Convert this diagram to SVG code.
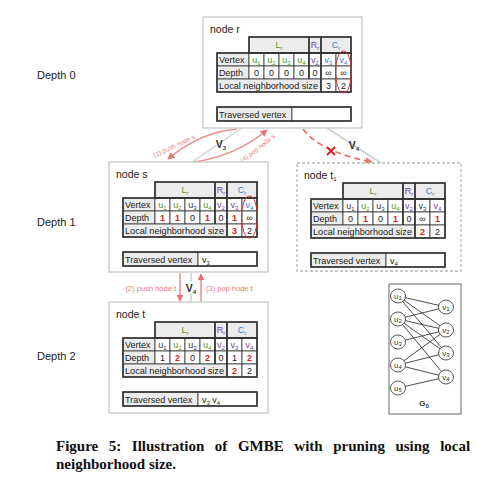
<svg xmlns="http://www.w3.org/2000/svg" xmlns:xlink="http://www.w3.org/1999/xlink" width="491" height="492" viewBox="0 0 491 492">
<style>
.tb{font-family:"Liberation Sans","Noto Sans",sans-serif;font-size:9px;fill:#222;text-anchor:middle}
.lab{text-anchor:start}
.sb{font-size:6px}
.g{fill:#4e9a28}.p{fill:#7b3fa0}.b{fill:#3a7cc6}.k{fill:#333}.r{fill:#e02020;font-weight:bold}
.cell{fill:#fff;stroke:#333;stroke-width:.8}
.hd{fill:#ececec;stroke:#333;stroke-width:.8}
.thick{fill:none;stroke:#333;stroke-width:1.6}
.box{fill:#fff;stroke:#c8c8c8;stroke-width:1.3}
.dbox{fill:#fff;stroke:#bbb;stroke-width:1.3;stroke-dasharray:3,2}
.nm{font-family:"Liberation Sans","Noto Sans",sans-serif;font-size:10.5px;fill:#222}
.ring{fill:none;stroke:#e03030;stroke-width:1}
.dep{font-family:"Liberation Sans","Noto Sans",sans-serif;font-size:11px;fill:#222}
.gl{stroke:#cfcfcf;stroke-width:1.5;fill:none}
.rl{stroke:#f08a8a;stroke-width:1.5;fill:none}
.rt{font-family:"Liberation Sans","Noto Sans",sans-serif;font-size:6.5px;fill:#ee7a7a;text-anchor:middle}
.rt2{font-family:"Liberation Sans","Noto Sans",sans-serif;font-size:7.5px;fill:#ee7a7a}
.vl{font-family:"Liberation Sans","Noto Sans",sans-serif;font-size:10.5px;font-weight:bold;fill:#333;text-anchor:middle}
.ge{stroke:#222;stroke-width:.8}
.gc{fill:#fff;stroke:#444;stroke-width:.9}
.gt{font-family:"Liberation Sans","Noto Sans",sans-serif;font-size:8px;fill:#333;text-anchor:middle}
.cap{font-family:"Liberation Serif","Times New Roman",serif;font-size:15px;font-weight:bold;fill:#111}
</style>
<defs>
<marker id="ah" viewBox="0 0 10 10" refX="9" refY="5" markerUnits="userSpaceOnUse" markerWidth="7" markerHeight="7" orient="auto"><path d="M0,0 L10,5 L0,10 z" fill="#ea6f6f"/></marker>
<g id="grid">
<rect class="hd" x="46" y="20" width="60" height="16"/>
<rect class="hd" x="106" y="20" width="12" height="16"/>
<rect class="hd" x="118" y="20" width="30" height="16"/>
<rect class="hd" x="14" y="36" width="32" height="13"/>
<rect class="hd" x="14" y="49" width="32" height="13"/>
<rect class="cell" x="46" y="36" width="15" height="13"/><rect class="cell" x="61" y="36" width="15" height="13"/><rect class="cell" x="76" y="36" width="15" height="13"/><rect class="cell" x="91" y="36" width="15" height="13"/><rect class="cell" x="106" y="36" width="12" height="13"/><rect class="cell" x="118" y="36" width="15" height="13"/><rect class="cell" x="133" y="36" width="15" height="13"/>
<rect class="cell" x="46" y="49" width="15" height="13"/><rect class="cell" x="61" y="49" width="15" height="13"/><rect class="cell" x="76" y="49" width="15" height="13"/><rect class="cell" x="91" y="49" width="15" height="13"/><rect class="cell" x="106" y="49" width="12" height="13"/><rect class="cell" x="118" y="49" width="15" height="13"/><rect class="cell" x="133" y="49" width="15" height="13"/>
<rect class="hd" x="14" y="62" width="104" height="13"/>
<rect class="cell" x="118" y="62" width="15" height="13"/><rect class="cell" x="133" y="62" width="15" height="13"/>
<rect class="thick" x="46" y="20" width="102" height="16"/>
<rect class="thick" x="14" y="36" width="134" height="39"/>
<path class="thick" d="M106,20 V62 M118,20 V75"/>
<rect class="hd" x="14" y="90" width="75" height="14"/>
<rect class="cell" x="89" y="90" width="59" height="14"/>
<rect class="thick" x="14" y="90" width="134" height="14"/>
</g>
</defs>

<rect width="491" height="492" fill="#fff"/>

<text class="dep" x="37" y="79">Depth 0</text>
<text class="dep" x="37" y="226">Depth 1</text>
<text class="dep" x="37" y="360">Depth 2</text>

<g id="connectors">
<line class="gl" x1="242" y1="128" x2="192" y2="162"/>
<text class="vl" x="221" y="148">V<tspan class="sb" font-size="7" dy="2">3</tspan></text>
<path class="rl" d="M237,129 Q200,132 168,159" marker-end="url(#ah)"/>
<text class="rt" transform="translate(175,148) rotate(-25)">(1) push node s</text>
<path class="rl" d="M194,162 Q236,156 267,130" marker-end="url(#ah)"/>
<text class="rt" transform="translate(259,150) rotate(-38)">(4) pop node s</text>
<line class="gl" x1="327" y1="128" x2="381" y2="163"/>
<text class="vl" x="354" y="149">V<tspan class="sb" font-size="7" dy="2">4</tspan></text>
<path d="M303,129 Q320,152 372,162" fill="none" stroke="#ea6060" stroke-width="1.5" stroke-dasharray="6,4" marker-end="url(#ah)"/>
<path d="M327,147 L335,155 M335,147 L327,155" stroke="#e02020" stroke-width="2"/>
<line class="gl" x1="191" y1="273" x2="191" y2="282"/>
<line class="gl" x1="191" y1="294" x2="191" y2="302"/>
<text class="vl" x="191" y="292">V<tspan class="sb" font-size="7" dy="2">4</tspan></text>
<line class="rl" x1="180" y1="273" x2="180" y2="301" marker-end="url(#ah)"/>
<line class="rl" x1="201" y1="302" x2="201" y2="274" marker-end="url(#ah)"/>
<text class="rt2" x="176" y="291" text-anchor="end">(2) push node t</text>
<text class="rt2" x="206" y="291">(3) pop node t</text>
</g>

<g id="node-r" transform="translate(203,17)">
<rect class="box" x="0" y="0" width="159" height="111"/>
<text class="nm" x="7" y="16">node r</text>
<use xlink:href="#grid"/>
<text class="tb g" x="76" y="31">L<tspan class="sb" dy="2">r</tspan></text>
<text class="tb p" x="112" y="31">R<tspan class="sb" dy="2">r</tspan></text>
<text class="tb b" x="133" y="31">C<tspan class="sb" dy="2">r</tspan></text>
<text class="tb lab" x="16" y="46">Vertex</text>
<text class="tb g" x="53.5" y="46">u<tspan class="sb" dy="2">1</tspan></text>
<text class="tb g" x="68.5" y="46">u<tspan class="sb" dy="2">2</tspan></text>
<text class="tb g" x="83.5" y="46">u<tspan class="sb" dy="2">3</tspan></text>
<text class="tb g" x="98.5" y="46">u<tspan class="sb" dy="2">4</tspan></text>
<text class="tb p" x="112" y="46">v<tspan class="sb" dy="2">2</tspan></text>
<text class="tb b" x="125.5" y="46">v<tspan class="sb" dy="2">3</tspan></text>
<text class="tb b" x="140.5" y="46">v<tspan class="sb" dy="2">4</tspan></text>
<text class="tb lab" x="16" y="59">Depth</text>
<text class="tb" x="53.5" y="59">0</text><text class="tb" x="68.5" y="59">0</text><text class="tb" x="83.5" y="59">0</text><text class="tb" x="98.5" y="59">0</text><text class="tb" x="112" y="59">0</text><text class="tb" x="125.5" y="59">∞</text><text class="tb" x="140.5" y="59">∞</text>
<text class="tb lab" x="16" y="72" textLength="99" lengthAdjust="spacingAndGlyphs">Local neighborhood size</text>
<text class="tb" x="125.5" y="72">3</text><text class="tb" x="140.5" y="72">2</text>
<text class="tb lab" x="16" y="100.5">Traversed vertex</text>
<ellipse class="ring" cx="140.5" cy="55" rx="8" ry="21"/>
</g>

<g id="node-s" transform="translate(109,162)">
<rect class="box" x="0" y="0" width="159" height="110"/>
<text class="nm" x="7" y="16">node s</text>
<use xlink:href="#grid"/>
<text class="tb g" x="76" y="31">L<tspan class="sb" dy="2">r</tspan></text>
<text class="tb p" x="112" y="31">R<tspan class="sb" dy="2">r</tspan></text>
<text class="tb b" x="133" y="31">C<tspan class="sb" dy="2">r</tspan></text>
<text class="tb lab" x="16" y="46">Vertex</text>
<text class="tb g" x="53.5" y="46">u<tspan class="sb" dy="2">1</tspan></text>
<text class="tb g" x="68.5" y="46">u<tspan class="sb" dy="2">2</tspan></text>
<text class="tb k" x="83.5" y="46">u<tspan class="sb" dy="2">3</tspan></text>
<text class="tb g" x="98.5" y="46">u<tspan class="sb" dy="2">4</tspan></text>
<text class="tb p" x="112" y="46">v<tspan class="sb" dy="2">2</tspan></text>
<text class="tb p" x="125.5" y="46">v<tspan class="sb" dy="2">3</tspan></text>
<text class="tb b" x="140.5" y="46">v<tspan class="sb" dy="2">4</tspan></text>
<text class="tb lab" x="16" y="59">Depth</text>
<text class="tb r" x="53.5" y="59">1</text><text class="tb r" x="68.5" y="59">1</text><text class="tb" x="83.5" y="59">0</text><text class="tb r" x="98.5" y="59">1</text><text class="tb" x="112" y="59">0</text><text class="tb r" x="125.5" y="59">1</text><text class="tb" x="140.5" y="59">∞</text>
<text class="tb lab" x="16" y="72" textLength="99" lengthAdjust="spacingAndGlyphs">Local neighborhood size</text>
<text class="tb r" x="125.5" y="72">3</text><text class="tb" x="140.5" y="72">2</text>
<text class="tb lab" x="16" y="100.5">Traversed vertex</text>
<text class="tb lab" x="93" y="100.5">v<tspan class="sb" dy="2">3</tspan></text>
<ellipse class="ring" cx="140.5" cy="55" rx="8" ry="21"/>
</g>

<g id="node-t1" transform="translate(297,163)">
<rect class="dbox" x="0" y="0" width="164" height="108"/>
<text class="nm" x="7" y="16">node t<tspan class="sb" font-size="7" dy="2">1</tspan></text>
<use xlink:href="#grid"/>
<text class="tb g" x="76" y="31">L<tspan class="sb" dy="2">r</tspan></text>
<text class="tb p" x="112" y="31">R<tspan class="sb" dy="2">r</tspan></text>
<text class="tb b" x="133" y="31">C<tspan class="sb" dy="2">r</tspan></text>
<text class="tb lab" x="16" y="46">Vertex</text>
<text class="tb k" x="53.5" y="46">u<tspan class="sb" dy="2">1</tspan></text>
<text class="tb g" x="68.5" y="46">u<tspan class="sb" dy="2">2</tspan></text>
<text class="tb k" x="83.5" y="46">u<tspan class="sb" dy="2">3</tspan></text>
<text class="tb g" x="98.5" y="46">u<tspan class="sb" dy="2">4</tspan></text>
<text class="tb p" x="112" y="46">v<tspan class="sb" dy="2">2</tspan></text>
<text class="tb k" x="125.5" y="46">v<tspan class="sb" dy="2">3</tspan></text>
<text class="tb p" x="140.5" y="46">v<tspan class="sb" dy="2">4</tspan></text>
<text class="tb lab" x="16" y="59">Depth</text>
<text class="tb" x="53.5" y="59">0</text><text class="tb r" x="68.5" y="59">1</text><text class="tb" x="83.5" y="59">0</text><text class="tb r" x="98.5" y="59">1</text><text class="tb" x="112" y="59">0</text><text class="tb" x="125.5" y="59">∞</text><text class="tb r" x="140.5" y="59">1</text>
<text class="tb lab" x="16" y="72" textLength="99" lengthAdjust="spacingAndGlyphs">Local neighborhood size</text>
<text class="tb r" x="125.5" y="72">2</text><text class="tb" x="140.5" y="72">2</text>
<text class="tb lab" x="16" y="100.5">Traversed vertex</text>
<text class="tb lab" x="93" y="100.5">v<tspan class="sb" dy="2">4</tspan></text>
</g>

<g id="node-t" transform="translate(109,302)">
<rect class="box" x="0" y="0" width="159" height="111"/>
<text class="nm" x="7" y="16">node t</text>
<use xlink:href="#grid"/>
<text class="tb g" x="76" y="31">L<tspan class="sb" dy="2">r</tspan></text>
<text class="tb p" x="112" y="31">R<tspan class="sb" dy="2">r</tspan></text>
<text class="tb b" x="133" y="31">C<tspan class="sb" dy="2">r</tspan></text>
<text class="tb lab" x="16" y="46">Vertex</text>
<text class="tb k" x="53.5" y="46">u<tspan class="sb" dy="2">1</tspan></text>
<text class="tb g" x="68.5" y="46">u<tspan class="sb" dy="2">2</tspan></text>
<text class="tb k" x="83.5" y="46">u<tspan class="sb" dy="2">3</tspan></text>
<text class="tb g" x="98.5" y="46">u<tspan class="sb" dy="2">4</tspan></text>
<text class="tb p" x="112" y="46">v<tspan class="sb" dy="2">2</tspan></text>
<text class="tb p" x="125.5" y="46">v<tspan class="sb" dy="2">3</tspan></text>
<text class="tb p" x="140.5" y="46">v<tspan class="sb" dy="2">4</tspan></text>
<text class="tb lab" x="16" y="59">Depth</text>
<text class="tb" x="53.5" y="59">1</text><text class="tb r" x="68.5" y="59">2</text><text class="tb" x="83.5" y="59">0</text><text class="tb r" x="98.5" y="59">2</text><text class="tb" x="112" y="59">0</text><text class="tb" x="125.5" y="59">1</text><text class="tb r" x="140.5" y="59">2</text>
<text class="tb lab" x="16" y="72" textLength="99" lengthAdjust="spacingAndGlyphs">Local neighborhood size</text>
<text class="tb r" x="125.5" y="72">2</text><text class="tb" x="140.5" y="72">2</text>
<text class="tb lab" x="16" y="100.5">Traversed vertex</text>
<text class="tb lab" x="93" y="100.5">v<tspan class="sb" dy="2">3</tspan><tspan dy="-2"> v</tspan><tspan class="sb" dy="2">4</tspan></text>
</g>

<g id="graph-G0">
<rect x="389" y="284" width="72" height="130" fill="#fff" stroke="#666" stroke-width="1"/>
<g id="g0-edges">
<line class="ge" x1="398" y1="296" x2="446" y2="307"/>
<line class="ge" x1="398" y1="296" x2="446" y2="330"/>
<line class="ge" x1="398" y1="296" x2="446" y2="353"/>
<line class="ge" x1="398" y1="319" x2="446" y2="307"/>
<line class="ge" x1="398" y1="319" x2="446" y2="330"/>
<line class="ge" x1="398" y1="319" x2="446" y2="353"/>
<line class="ge" x1="398" y1="319" x2="446" y2="377"/>
<line class="ge" x1="398" y1="342" x2="446" y2="330"/>
<line class="ge" x1="398" y1="365" x2="446" y2="330"/>
<line class="ge" x1="398" y1="365" x2="446" y2="353"/>
<line class="ge" x1="398" y1="365" x2="446" y2="377"/>
<line class="ge" x1="398" y1="388" x2="446" y2="377"/>
</g>
<g id="g0-u1"><ellipse class="gc" cx="398" cy="296" rx="7.5" ry="7"/><text class="gt" x="398" y="298.5">u<tspan class="sb" dy="1.5">1</tspan></text></g>
<g id="g0-u2"><ellipse class="gc" cx="398" cy="319" rx="7.5" ry="7"/><text class="gt" x="398" y="321.5">u<tspan class="sb" dy="1.5">2</tspan></text></g>
<g id="g0-u3"><ellipse class="gc" cx="398" cy="342" rx="7.5" ry="7"/><text class="gt" x="398" y="344.5">u<tspan class="sb" dy="1.5">3</tspan></text></g>
<g id="g0-u4"><ellipse class="gc" cx="398" cy="365" rx="7.5" ry="7"/><text class="gt" x="398" y="367.5">u<tspan class="sb" dy="1.5">4</tspan></text></g>
<g id="g0-u5"><ellipse class="gc" cx="398" cy="388" rx="7.5" ry="7"/><text class="gt" x="398" y="390.5">u<tspan class="sb" dy="1.5">5</tspan></text></g>
<g id="g0-v1"><ellipse class="gc" cx="446" cy="307" rx="7.5" ry="7"/><text class="gt" x="446" y="309.5">v<tspan class="sb" dy="1.5">1</tspan></text></g>
<g id="g0-v2"><ellipse class="gc" cx="446" cy="330" rx="7.5" ry="7"/><text class="gt" x="446" y="332.5">v<tspan class="sb" dy="1.5">2</tspan></text></g>
<g id="g0-v3"><ellipse class="gc" cx="446" cy="353" rx="7.5" ry="7"/><text class="gt" x="446" y="355.5">v<tspan class="sb" dy="1.5">3</tspan></text></g>
<g id="g0-v4"><ellipse class="gc" cx="446" cy="377" rx="7.5" ry="7"/><text class="gt" x="446" y="379.5">v<tspan class="sb" dy="1.5">4</tspan></text></g>
<text class="gt" x="424" y="406" font-size="10" font-weight="bold">G<tspan class="sb" font-size="7" dy="2">0</tspan></text>
</g>

<text class="cap" x="56" y="451" word-spacing="6.8">Figure 5: Illustration of GMBE with pruning using local</text>
<text class="cap" x="56" y="469">neighborhood size.</text>
</svg>
